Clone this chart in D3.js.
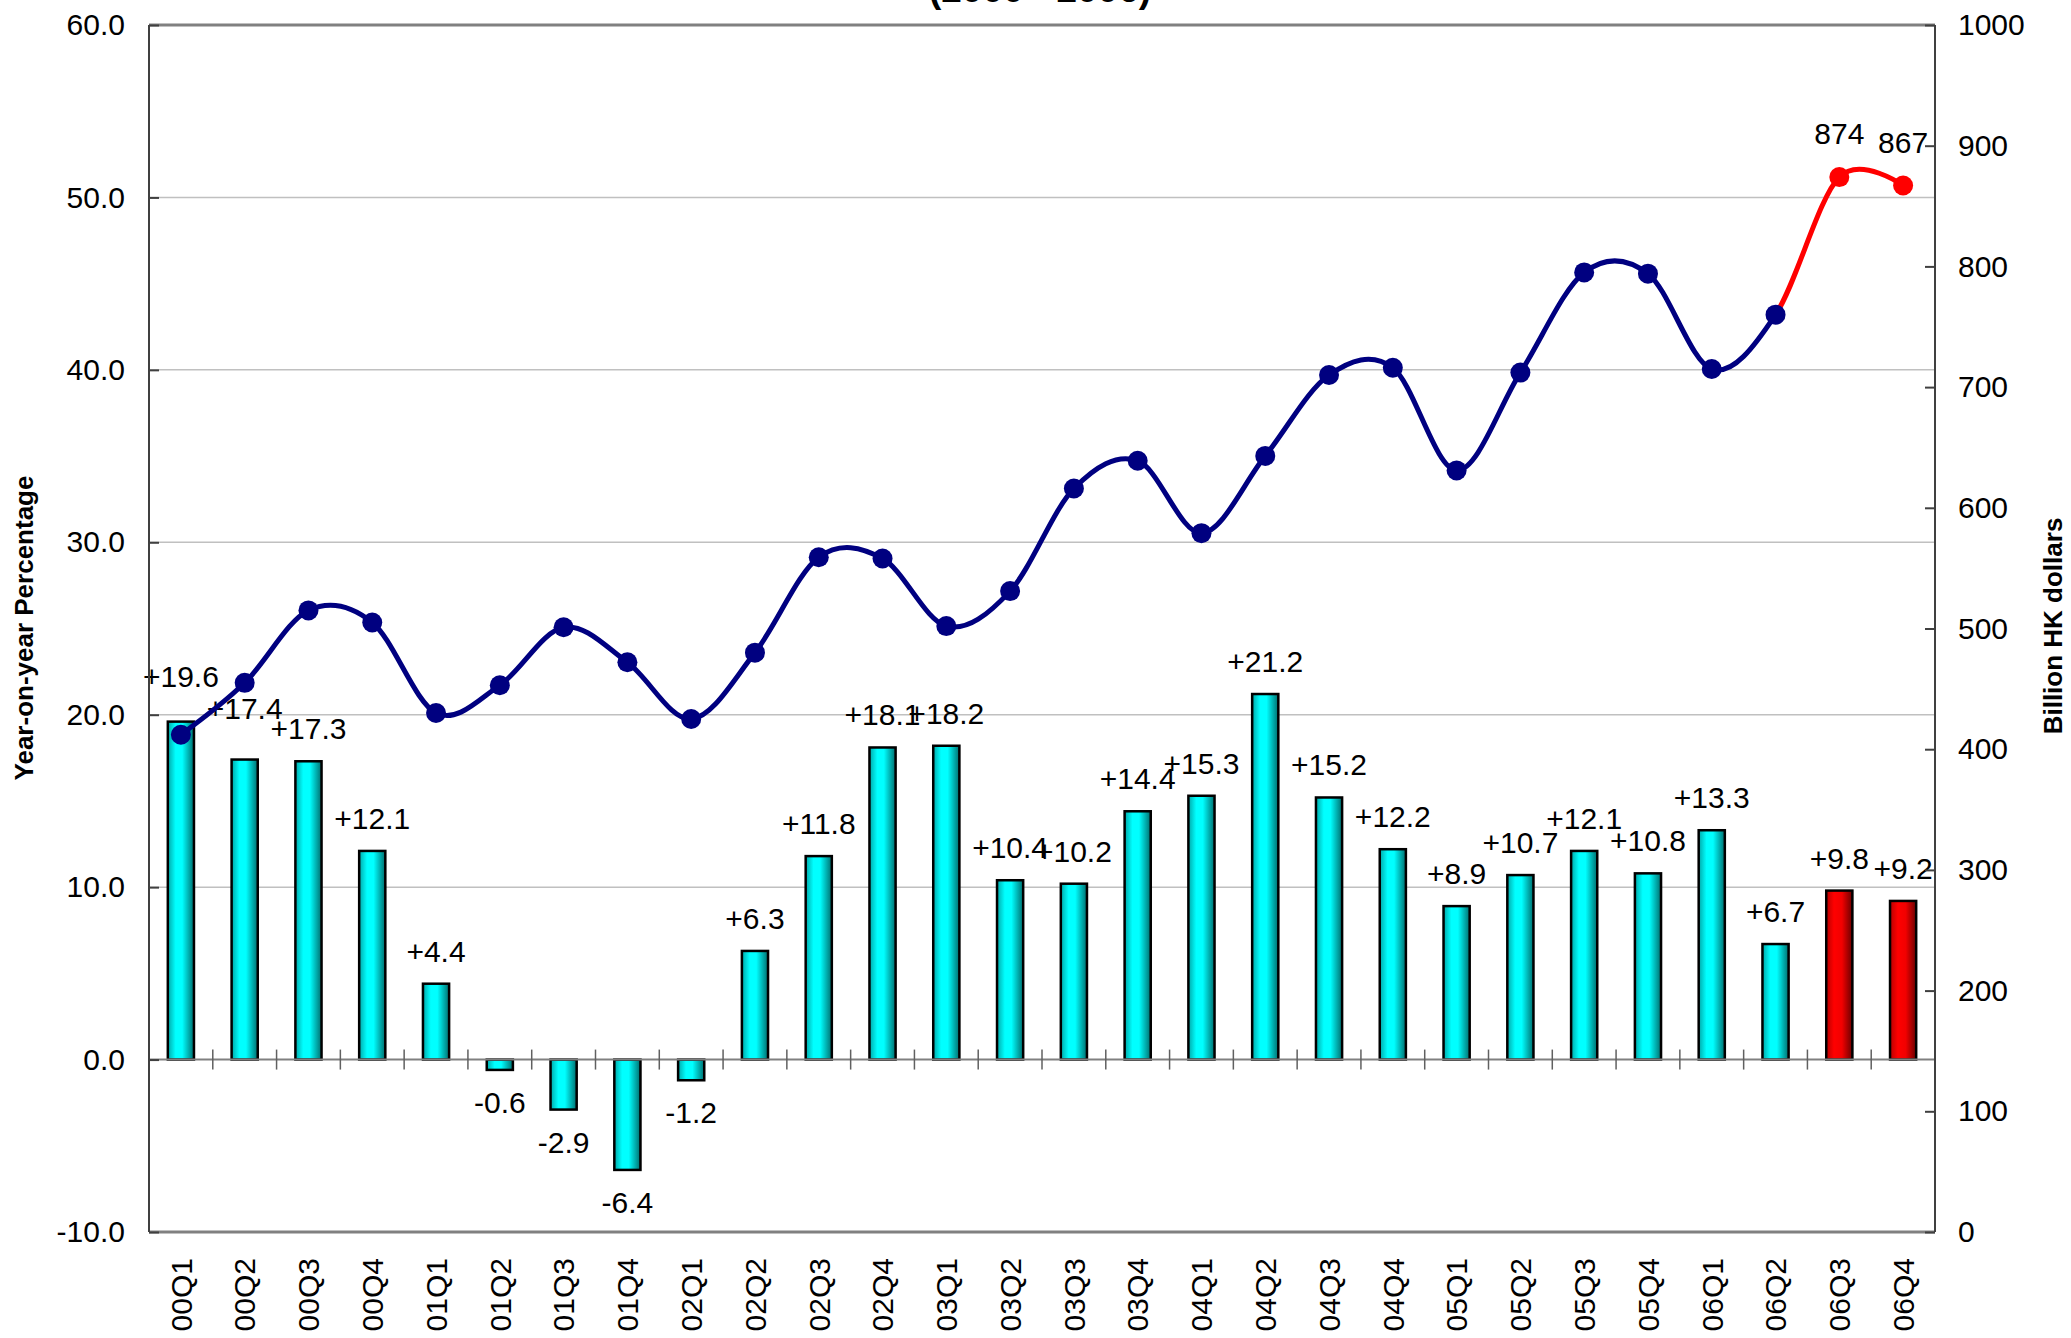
<!DOCTYPE html>
<html>
<head>
<meta charset="utf-8">
<script src="https://cdn.jsdelivr.net/npm/d3@7"></script>
<style>
  html, body { margin: 0; padding: 0; background: #fff; }
  svg { display: block; font-family: "Liberation Sans", Arial, sans-serif; }
  .tick line { stroke: #404040; stroke-width: 2; }
  .tick text { font-size: 30px; fill: #000; }
  .domain { display: none; }
</style>
</head>
<body>
<div id="chart"></div>
<script>
// quarters 2000 Q1 .. 2006 Q4
const categories = ['00Q1','00Q2','00Q3','00Q4','01Q1','01Q2','01Q3','01Q4',
  '02Q1','02Q2','02Q3','02Q4','03Q1','03Q2','03Q3','03Q4',
  '04Q1','04Q2','04Q3','04Q4','05Q1','05Q2','05Q3','05Q4',
  '06Q1','06Q2','06Q3','06Q4'];

// year-on-year % change (bars, left axis)
const growth = [19.6, 17.4, 17.3, 12.1, 4.4, -0.6, -2.9, -6.4,
  -1.2, 6.3, 11.8, 18.1, 18.2, 10.4, 10.2, 14.4,
  15.3, 21.2, 15.2, 12.2, 8.9, 10.7, 12.1, 10.8,
  13.3, 6.7, 9.8, 9.2];

// value in billion HK dollars (line, right axis)
const value = [412, 455, 515, 505, 430, 453, 501, 472,
  425, 480, 559, 558, 502, 531, 616, 639,
  579, 643, 710, 716, 631, 712, 795, 794,
  715, 760, 874, 867];

const leftTicks = [-10, 0, 10, 20, 30, 40, 50, 60];
const rightTicks = [0, 100, 200, 300, 400, 500, 600, 700, 800, 900, 1000];

// latest quarters drawn in red
const latest = ['06Q3', '06Q4'];
// a couple of labels were lifted by hand in the original
const labelLift = { '00Q1': 13, '00Q2': 19 };

const W = 2071, H = 1338;
const m = { left: 149, right: 1935, top: 25, bottom: 1232 };

const svg = d3.select('#chart').append('svg')
  .attr('width', W).attr('height', H);

const x = d3.scaleBand().domain(categories).range([m.left, m.right]);
const yL = d3.scaleLinear().domain([-10, 60]).range([m.bottom, m.top]);
const yR = d3.scaleLinear().domain([0, 1000]).range([m.bottom, m.top]);
const cx = d => x(d) + x.bandwidth() / 2;
const barW = x.bandwidth() * 0.41;

const defs = svg.append('defs');
function grad(id, stops) {
  const g = defs.append('linearGradient').attr('id', id)
    .attr('x1', '0%').attr('x2', '100%').attr('y1', '0%').attr('y2', '0%');
  stops.forEach(s => g.append('stop').attr('offset', s[0]).attr('stop-color', s[1]));
}
grad('cyanBar', [['0%', '#00a8a8'], ['30%', '#00ffff'], ['55%', '#00ffff'], ['100%', '#006e6e']]);
grad('redBar', [['0%', '#b80000'], ['30%', '#ff0000'], ['60%', '#f20000'], ['100%', '#6a0000']]);

// title, cut off at the top edge
svg.append('text')
  .attr('x', 1040).attr('y', 2)
  .attr('text-anchor', 'middle')
  .style('font-size', '37px').style('font-weight', 'bold')
  .text('(2000 - 2006)');

// gridlines
svg.append('g').selectAll('line')
  .data(leftTicks.filter(d => d > 0 && d < 60))
  .join('line')
    .attr('x1', m.left).attr('x2', m.right)
    .attr('y1', d => yL(d)).attr('y2', d => yL(d))
    .attr('stroke', '#c0c0c0').attr('stroke-width', 1.5);

// bars
svg.append('g').selectAll('rect')
  .data(categories)
  .join('rect')
    .attr('x', d => cx(d) - barW / 2)
    .attr('width', barW)
    .attr('y', (d, i) => yL(Math.max(0, growth[i])))
    .attr('height', (d, i) => Math.abs(yL(growth[i]) - yL(0)))
    .attr('fill', d => latest.includes(d) ? 'url(#redBar)' : 'url(#cyanBar)')
    .attr('stroke', '#000').attr('stroke-width', 2.5);

// zero line with category ticks
svg.append('line')
  .attr('x1', m.left).attr('x2', m.right)
  .attr('y1', yL(0)).attr('y2', yL(0))
  .attr('stroke', '#808080').attr('stroke-width', 2);
svg.append('g').selectAll('line')
  .data(categories.slice(1))
  .join('line')
    .attr('x1', d => x(d)).attr('x2', d => x(d))
    .attr('y1', yL(0) - 10).attr('y2', yL(0) + 10)
    .attr('stroke', '#606060').attr('stroke-width', 1.5);

// bar labels
svg.append('g').selectAll('text')
  .data(categories)
  .join('text')
    .attr('x', d => cx(d))
    .attr('y', (d, i) => growth[i] >= 0
      ? yL(growth[i]) - 22 - (labelLift[d] || 0)
      : yL(growth[i]) + 43)
    .attr('text-anchor', 'middle')
    .style('font-size', '30px')
    .text((d, i) => growth[i] > 0 ? '+' + growth[i].toFixed(1) : growth[i].toFixed(1));

// line (smoothed), navy up to 06Q2, red afterwards
const splitX = cx('06Q2');
defs.append('clipPath').attr('id', 'clipOld').append('rect')
  .attr('x', 0).attr('y', 0).attr('width', splitX).attr('height', H);
defs.append('clipPath').attr('id', 'clipNew').append('rect')
  .attr('x', splitX).attr('y', 0).attr('width', W - splitX).attr('height', H);

const line = d3.line()
  .x(d => cx(d))
  .y((d, i) => yR(value[i]))
  .curve(d3.curveCatmullRom.alpha(0));

svg.append('path').datum(categories)
  .attr('d', line).attr('fill', 'none')
  .attr('stroke', '#000080').attr('stroke-width', 5)
  .attr('clip-path', 'url(#clipOld)');
svg.append('path').datum(categories)
  .attr('d', line).attr('fill', 'none')
  .attr('stroke', '#ff0000').attr('stroke-width', 5)
  .attr('clip-path', 'url(#clipNew)');

svg.append('g').selectAll('circle')
  .data(categories)
  .join('circle')
    .attr('cx', d => cx(d))
    .attr('cy', (d, i) => yR(value[i]))
    .attr('r', 10)
    .attr('fill', d => latest.includes(d) ? '#ff0000' : '#000080');

// value labels on the latest points
svg.append('g').selectAll('text')
  .data(latest)
  .join('text')
    .attr('x', d => cx(d))
    .attr('y', d => yR(value[categories.indexOf(d)]) - 33)
    .attr('text-anchor', 'middle')
    .style('font-size', '30px')
    .text(d => value[categories.indexOf(d)]);

// frame
svg.append('line').attr('x1', m.left).attr('x2', m.right).attr('y1', m.top).attr('y2', m.top)
  .attr('stroke', '#808080').attr('stroke-width', 3);
svg.append('line').attr('x1', m.left).attr('x2', m.right).attr('y1', m.bottom).attr('y2', m.bottom)
  .attr('stroke', '#808080').attr('stroke-width', 3);
svg.append('line').attr('x1', m.left).attr('x2', m.left).attr('y1', m.top).attr('y2', m.bottom)
  .attr('stroke', '#404040').attr('stroke-width', 2);
svg.append('line').attr('x1', m.right).attr('x2', m.right).attr('y1', m.top).attr('y2', m.bottom)
  .attr('stroke', '#404040').attr('stroke-width', 2);

// axes
svg.append('g')
  .attr('transform', `translate(${m.left},0)`)
  .call(d3.axisLeft(yL).tickValues(leftTicks).tickFormat(d => d.toFixed(1))
    .tickSizeInner(-10).tickSizeOuter(0).tickPadding(24));

svg.append('g')
  .attr('transform', `translate(${m.right},0)`)
  .call(d3.axisRight(yR).tickValues(rightTicks).tickFormat(d => d)
    .tickSizeInner(-10).tickSizeOuter(0).tickPadding(23));

const xAxis = svg.append('g')
  .attr('transform', `translate(0,${m.bottom})`)
  .call(d3.axisBottom(x).tickSize(0));
xAxis.selectAll('text')
  .attr('transform', 'rotate(-90)')
  .attr('text-anchor', 'end')
  .attr('x', -26).attr('y', 0).attr('dy', '0.36em')
  .style('font-size', '30px');

// axis titles
svg.append('text')
  .attr('transform', 'translate(33,628) rotate(-90)')
  .attr('text-anchor', 'middle')
  .style('font-size', '26px').style('font-weight', 'bold')
  .text('Year-on-year Percentage');

svg.append('text')
  .attr('transform', 'translate(2062,626) rotate(-90)')
  .attr('text-anchor', 'middle')
  .style('font-size', '26px').style('font-weight', 'bold')
  .text('Billion HK dollars');
</script>
</body>
</html>
